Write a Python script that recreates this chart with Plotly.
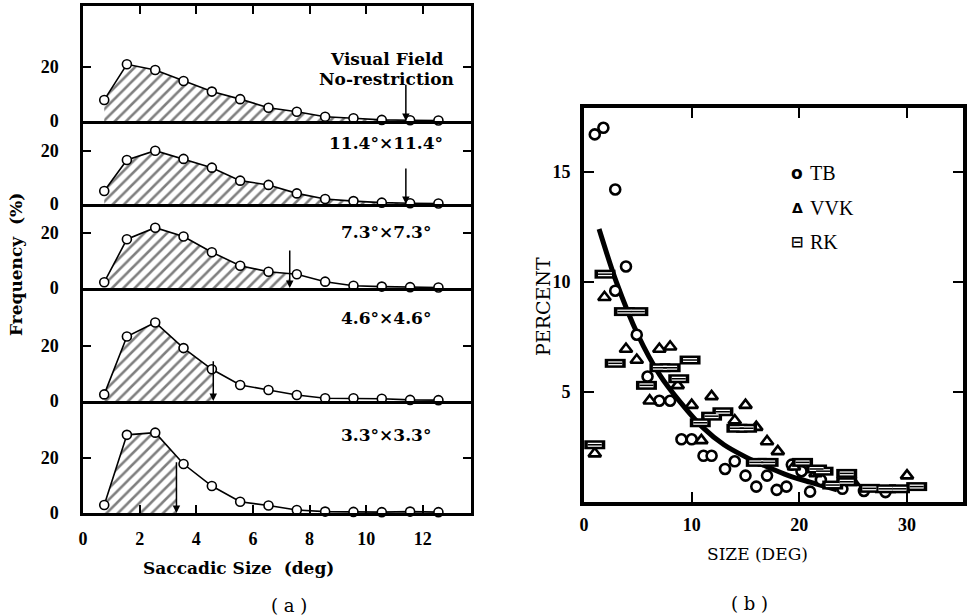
import numpy as np
import plotly.graph_objects as go

# ---------------- (a) saccade size histograms under field restriction ----------------
sizes = [0.75, 1.55, 2.55, 3.55, 4.55, 5.55, 6.55, 7.55, 8.55, 9.55, 10.55, 11.55, 12.55]
freq_none = [7.8, 21.0, 18.9, 14.8, 10.9, 8.1, 4.9, 3.4, 1.6, 1.0, 0.4, 0.3, 0.2]
freq_114 = [4.9, 16.6, 20.1, 17.0, 13.7, 8.8, 7.2, 4.0, 1.9, 1.1, 0.5, 0.3, 0.2]
freq_73 = [2.1, 17.7, 21.9, 18.7, 13.0, 8.1, 5.9, 5.0, 2.3, 0.8, 0.5, 0.3, 0.2]
freq_46 = [2.4, 23.4, 28.5, 19.2, 11.5, 5.8, 4.0, 2.2, 1.0, 1.0, 0.8, 0.4, 0.3]
freq_33 = [2.9, 28.4, 29.2, 17.8, 9.8, 4.1, 2.7, 1.1, 0.5, 0.4, 0.3, 0.5, 0.3]
panel_series = [freq_none, freq_114, freq_73, freq_46, freq_33]
field_sizes = [11.4, 11.4, 7.3, 4.6, 3.3]
arrow_tops = [14, 14, 14.2, 15, 19]
panel_labels = [["Visual Field", "No-restriction"], ["11.4°×11.4°"], ["7.3°×7.3°"],
                ["4.6°×4.6°"], ["3.3°×3.3°"]]
label_rows = [[59, 79], [143], [232], [318], [435]]
y_tops = [42.6, 31.3, 30.5, 41.0, 40.7]

# ---------------- (b) saccade size distributions of three observers ----------------
tb_x = [1.0, 1.8, 2.9, 3.9, 2.9, 4.9, 5.9, 7.0, 8.0, 9.05, 10.0, 11.1, 11.85, 13.1, 14.0,
        15.0, 16.0, 17.0, 17.9, 18.8, 19.3, 20.2, 21.0, 22.0, 24.0, 26.0, 28.0]
tb_y = [16.7, 17.0, 14.2, 10.7, 9.6, 7.6, 5.7, 4.6, 4.6, 2.85, 2.85, 2.1, 2.1, 1.5, 1.85,
        1.2, 0.7, 1.2, 0.55, 0.7, 1.7, 1.4, 0.47, 1.0, 0.6, 0.5, 0.45]
vvk_x = [1.0, 1.9, 3.9, 4.9, 7.0, 8.0, 6.1, 8.7, 11.85, 10.0, 15.0, 14.0, 16.0, 10.9, 17.0,
         18.0, 19.5, 21.5, 25.0, 30.0]
vvk_y = [2.2, 9.3, 6.95, 6.45, 6.95, 7.05, 4.6, 5.3, 4.8, 4.4, 4.4, 3.7, 3.4, 2.8, 2.75,
         2.3, 1.6, 1.3, 0.9, 1.2]
rk_x = [1.0, 1.95, 3.75, 5.0, 2.9, 9.85, 7.05, 8.0, 5.8, 8.8, 12.9, 11.85, 10.8, 14.2, 15.1,
        16.0, 17.1, 20.3, 21.6, 22.2, 24.4, 24.4, 23.1, 26.5, 28.0, 29.3, 30.9]
rk_y = [2.6, 10.35, 8.65, 8.65, 6.3, 6.45, 6.1, 6.1, 5.3, 5.6, 4.1, 3.9, 3.6, 3.35, 3.35,
        1.8, 1.8, 1.8, 1.5, 1.4, 1.3, 0.92, 0.77, 0.62, 0.6, 0.6, 0.7]
fit_x = [1.4, 3, 5, 7, 9, 11, 13, 15, 17, 19, 21, 23.5]
fit_y = [12.4, 10.0, 7.6, 5.8, 4.5, 3.4, 2.6, 2.05, 1.6, 1.2, 0.9, 0.55]
b_xticks = [0, 10, 20, 30]
b_yticks = [5, 10, 15]

W, H = 967, 616
SERIF = "DejaVu Serif"
DIGITS = "Liberation Serif"


def px(x):
    return x / W


def py(y):
    return 1 - y / H


def label(x, y, text, size, bold=False, angle=0, family=SERIF, xanchor="center"):
    return dict(x=px(x), y=py(y), xref="paper", yref="paper", text=text, showarrow=False,
                xanchor=xanchor, yanchor="middle", textangle=angle,
                font=dict(family=family, size=size, color="black",
                          weight="bold" if bold else "normal"))


fig = go.Figure()

# panel edges (pixels, top to bottom) for the stacked histograms
edges = [6, 121, 204, 288, 401, 513]
a_left, a_right = 83, 471
digit_font = dict(family=DIGITS, size=18, color="black", weight="bold")

annotations = []
for i, (vals, fx, top, labs, ytop, rows) in enumerate(
        zip(panel_series, field_sizes, arrow_tops, panel_labels, y_tops, label_rows)):
    n = i + 1
    xa = "x" if n == 1 else f"x{n}"
    ya = "y" if n == 1 else f"y{n}"
    # hatched area up to the visual field size
    cut = np.interp(fx, sizes, vals)
    fxs = [s for s in sizes if s <= fx] + [fx]
    fys = [v for s, v in zip(sizes, vals) if s <= fx] + [cut]
    fig.add_trace(go.Scatter(
        x=fxs, y=fys, mode="lines", line=dict(width=0, color="black"),
        fill="tozeroy", fillcolor="white",
        fillpattern=dict(shape="/", size=8, solidity=0.32, fgcolor="black", bgcolor="white"),
        xaxis=xa, yaxis=ya, showlegend=False, hoverinfo="skip"))
    fig.add_trace(go.Scatter(
        x=sizes, y=vals, mode="lines+markers",
        line=dict(color="black", width=1.6),
        marker=dict(symbol="circle", size=9, color="white", line=dict(color="black", width=1.6)),
        xaxis=xa, yaxis=ya, showlegend=False, cliponaxis=False))
    annotations.append(dict(
        x=fx, y=0, ax=fx, ay=top, xref=xa, yref=ya, axref=xa, ayref=ya,
        showarrow=True, arrowhead=2, arrowsize=1, arrowwidth=1.5, arrowcolor="black",
        standoff=0, text=""))
    for lab, row in zip(labs, rows):
        annotations.append(label(386, row, lab, 17, bold=True))

    dom_y = [py(edges[n]), py(edges[n - 1])]
    xaxis = dict(
        domain=[px(a_left), px(a_right)], range=[0, 13.7], anchor=ya, automargin=False,
        showline=True, linewidth=2.8, linecolor="black", mirror=(n == 1),
        showgrid=False, zeroline=False, tickvals=list(range(2, 13, 2)),
        ticks="", showticklabels=False)
    if n == 1:
        xaxis.update(side="top", ticks="inside", ticklen=8, tickwidth=2, tickcolor="black")
    if n == 5:
        xaxis.update(ticks="inside", ticklen=8, tickwidth=2, tickcolor="black",
                     showticklabels=True, tickvals=list(range(0, 13, 2)),
                     ticklabelstandoff=7, tickfont=digit_font)
    yaxis = dict(
        domain=dom_y, range=[0, ytop], anchor=xa, automargin=False,
        showline=True, linewidth=2.5, linecolor="black", mirror="ticks",
        showgrid=False, zeroline=False, tickvals=[0, 20],
        ticks="inside", ticklen=8, tickwidth=2, tickcolor="black",
        ticklabelstandoff=18, tickfont=digit_font)
    fig.layout[f"xaxis{'' if n == 1 else n}"] = xaxis
    fig.layout[f"yaxis{'' if n == 1 else n}"] = yaxis

# ---------------- panel (b) ----------------
fig.add_trace(go.Scatter(
    x=fit_x, y=fit_y, mode="lines", line=dict(color="black", width=5, shape="spline", smoothing=0.8),
    xaxis="x6", yaxis="y6", showlegend=False))
fig.add_trace(go.Scatter(
    x=tb_x, y=tb_y, mode="markers", name="TB",
    marker=dict(symbol="circle", size=10, color="white", line=dict(color="black", width=2.6)),
    xaxis="x6", yaxis="y6", showlegend=False, cliponaxis=False))
fig.add_trace(go.Scatter(
    x=vvk_x, y=vvk_y, mode="markers", name="VVK",
    marker=dict(symbol="triangle-up", size=11, color="white", line=dict(color="black", width=2.6)),
    xaxis="x6", yaxis="y6", showlegend=False, cliponaxis=False))
# RK: hollow bar with a centre stroke, built from stacked horizontal-bar markers
for size, width, col in [(15, 9, "black"), (10, 4, "white"), (10, 1.5, "black")]:
    fig.add_trace(go.Scatter(
        x=rk_x, y=rk_y, mode="markers", name="RK",
        marker=dict(symbol="line-ew", size=size, color=col, line=dict(color=col, width=width)),
        xaxis="x6", yaxis="y6", showlegend=False, cliponaxis=False))

b_dom_x = [px(584), px(963)]
b_dom_y = [py(502), py(108)]
b_digits = dict(family=DIGITS, size=18, color="black", weight="bold")
fig.update_layout(
    xaxis6=dict(domain=b_dom_x, range=[0, 35.2], anchor="y6", automargin=False,
                showline=True, linewidth=4, linecolor="black", mirror="ticks",
                showgrid=False, zeroline=False, tickvals=b_xticks,
                ticks="inside", ticklen=10, tickwidth=2, tickcolor="black",
                ticklabelstandoff=3, tickfont=b_digits),
    yaxis6=dict(domain=b_dom_y, range=[0, 17.9], anchor="x6", automargin=False,
                showline=True, linewidth=4, linecolor="black", mirror="ticks",
                showgrid=False, zeroline=False, tickvals=b_yticks,
                ticks="inside", ticklen=10, tickwidth=2, tickcolor="black",
                ticklabelstandoff=6, tickfont=b_digits),
    yaxis7=dict(domain=b_dom_y, range=[0, 17.9], anchor="x6", overlaying="y6", side="left",
                automargin=False, showline=False, showgrid=False, zeroline=False,
                tickvals=b_yticks, ticks="outside", ticklen=9, tickwidth=2, tickcolor="black",
                showticklabels=False),
)

# legend of panel (b)
for glyph, name, ypix, gsize in [("o", "TB", 173, 17), ("Δ", "VVK", 208, 14), ("⊟", "RK", 242, 15)]:
    annotations.append(label(797, ypix, f"<b>{glyph}</b>", gsize, family="DejaVu Sans"))
    annotations.append(label(808, ypix, name, 20, family="Liberation Serif", xanchor="left"))

# titles
annotations += [
    label(16, 265, "Frequency  (%)", 17, bold=True, angle=-90),
    label(238, 568, "Saccadic Size  (deg)", 17, bold=True),
    label(289, 605, "( a )", 18),
    label(543, 307, "PERCENT", 19, angle=-90),
    label(757, 554, "SIZE (DEG)", 17),
    label(749, 603, "( b )", 18),
]

fig.update_layout(
    width=W, height=H, margin=dict(l=0, r=0, t=0, b=0, autoexpand=False),
    paper_bgcolor="white", plot_bgcolor="white",
    annotations=annotations, showlegend=False,
)

fig.write_html("out.html")
